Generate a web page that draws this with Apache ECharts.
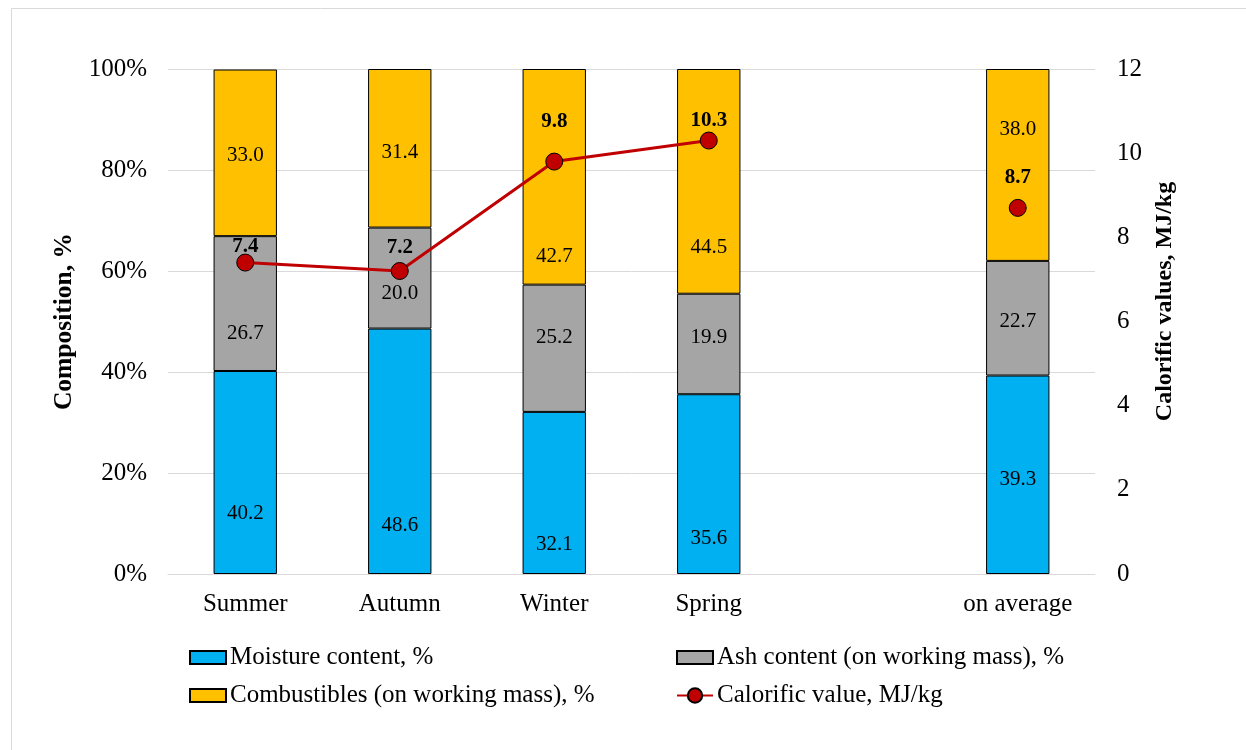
<!DOCTYPE html>
<html>
<head>
<meta charset="utf-8">
<script src="https://cdn.jsdelivr.net/npm/echarts@6/dist/echarts.min.js"></script>
<style>
  html, body { margin: 0; padding: 0; background: #fff; }
  #chart { width: 1246px; height: 750px; }
</style>
</head>
<body>
<div id="chart"></div>
<script>
// data
var seasons = ['Summer', 'Autumn', 'Winter', 'Spring', '', 'on average'];
var moisture = [40.2, 48.6, 32.1, 35.6, '-', 39.3];
var ash = [26.7, 20.0, 25.2, 19.9, '-', 22.7];
var combustibles = [33.0, 31.4, 42.7, 44.5, '-', 38.0];
var calorific = [7.4, 7.2, 9.8, 10.3, '-', 8.7];
var pctTicks = [0, 20, 40, 60, 80, 100];

// label shifts (px) so the labels sit where the original ones are
var moistureShift = [41, 74, 52, 54, '', 5];
var ashShift = [30, 15, -11, -6, '', 3];
var combShift = [3, 4, 80, 66, '', -35];
var calShift = [-16, -23, -40, -20, '', -30];

var FONT = '"Liberation Serif", "Times New Roman", serif';

function withShift(vals, shifts) {
  return vals.map(function (v, i) {
    if (v === '-') return '-';
    return { value: v, label: { offset: [0, shifts[i]] } };
  });
}

function barSeries(name, vals, shifts, color) {
  return {
    name: name,
    type: 'bar',
    stack: 'comp',
    barWidth: '41%',
    data: withShift(vals, shifts),
    itemStyle: { color: color, borderColor: '#000', borderWidth: 1 },
    label: {
      show: true,
      position: 'inside',
      color: '#000',
      fontFamily: FONT,
      fontSize: 21,
      formatter: function (p) { return Number(p.value).toFixed(1); }
    }
  };
}

var legendText = { fontFamily: FONT, fontSize: 25, color: '#000', padding: [0, 0, 0, -1] };

var chart = echarts.init(document.getElementById('chart'));
chart.setOption({
  animation: false,
  textStyle: { fontFamily: FONT },
  graphic: [{
    type: 'rect',
    shape: { x: 11.5, y: 8.5, width: 1300, height: 800 },
    style: { fill: 'none', stroke: '#d9d9d9', lineWidth: 1 },
    silent: true
  }],
  grid: { left: 168, right: 151, top: 69, bottom: 176 },
  legend: [{
    orient: 'vertical',
    left: 184,
    top: 640,
    itemWidth: 36,
    itemHeight: 13,
    itemGap: 13,
    textStyle: legendText,
    data: [
      { name: 'Moisture content, %', icon: 'rect' },
      { name: 'Combustibles (on working mass), %', icon: 'rect' }
    ]
  }, {
    orient: 'vertical',
    left: 671,
    top: 640,
    itemWidth: 36,
    itemHeight: 13,
    textStyle: legendText,
    data: [{ name: 'Ash content (on working mass), %', icon: 'rect' }]
  }, {
    orient: 'vertical',
    left: 671,
    top: 678,
    itemWidth: 36,
    itemHeight: 18,
    textStyle: legendText,
    data: ['Calorific value, MJ/kg']
  }],
  xAxis: {
    type: 'category',
    data: seasons,
    axisTick: { show: false },
    axisLine: { lineStyle: { color: '#d9d9d9', width: 1 } },
    axisLabel: { color: '#000', fontSize: 25, fontFamily: FONT, margin: 18 }
  },
  yAxis: [{
    type: 'value',
    min: pctTicks[0],
    max: pctTicks[pctTicks.length - 1],
    interval: 20,
    name: 'Composition, %',
    nameLocation: 'middle',
    nameRotate: 90,
    nameGap: 88,
    nameTextStyle: { color: '#000', fontSize: 25.5, fontWeight: 'bold', fontFamily: FONT },
    axisLine: { show: false },
    axisTick: { show: false },
    axisLabel: {
      color: '#000', fontSize: 25, fontFamily: FONT, margin: 21,
      formatter: function (v) { return v + '%'; }
    },
    splitLine: { lineStyle: { color: '#d9d9d9', width: 1 } }
  }, {
    type: 'value',
    position: 'right',
    min: 0,
    max: 12,
    interval: 2,
    name: 'Calorific values, MJ/kg',
    nameLocation: 'middle',
    nameRotate: 90,
    nameGap: 58,
    nameTextStyle: {
      color: '#000', fontSize: 24, fontWeight: 'bold', fontFamily: FONT,
      padding: [0, 0, 0, 40]
    },
    axisLine: { show: false },
    axisTick: { show: false },
    axisLabel: { color: '#000', fontSize: 25, fontFamily: FONT, margin: 22 },
    splitLine: { show: false }
  }],
  series: [
    barSeries('Moisture content, %', moisture, moistureShift, '#00B0F0'),
    barSeries('Ash content (on working mass), %', ash, ashShift, '#A5A5A5'),
    barSeries('Combustibles (on working mass), %', combustibles, combShift, '#FFC000'),
    {
      name: 'Calorific value, MJ/kg',
      type: 'line',
      yAxisIndex: 1,
      data: withShift(calorific, calShift),
      connectNulls: false,
      symbol: 'circle',
      symbolSize: 17,
      lineStyle: { color: '#C00000', width: 3 },
      itemStyle: { color: '#C00000', borderColor: '#000', borderWidth: 1 },
      label: {
        show: true,
        position: 'inside',
        color: '#000',
        fontFamily: FONT,
        fontSize: 21,
        fontWeight: 'bold',
        formatter: function (p) { return Number(p.value).toFixed(1); }
      },
      z: 5
    }
  ]
});
</script>
</body>
</html>
